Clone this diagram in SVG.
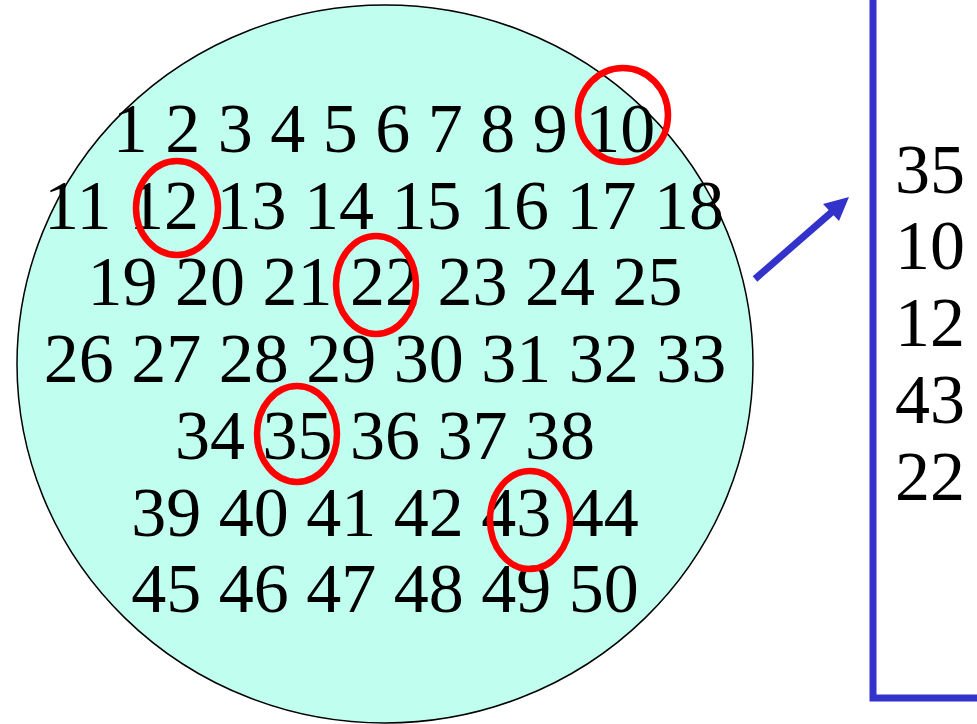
<svg xmlns="http://www.w3.org/2000/svg" width="977" height="724" viewBox="0 0 977 724">
<defs>
<style>
text{font-family:'Liberation Serif',Tinos,'Times New Roman',serif;font-size:70px;fill:#000000;}
.mark{fill:none;stroke:#ff0000;stroke-width:6.5;}
</style>
</defs>
<rect width="977" height="724" fill="#ffffff"/>
<g id="population">
<ellipse cx="385" cy="364" rx="368" ry="359" fill="#c0fff0" stroke="#000" stroke-width="1.5"/>
<text text-anchor="middle" x="384" y="152" xml:space="preserve">1 2 3 4 5 6 7 8 9 10</text>
<text text-anchor="middle" x="384" y="229" xml:space="preserve">11 12 13 14 15 16 17 18</text>
<text text-anchor="middle" x="385" y="305" xml:space="preserve">19 20 21 22 23 24 25</text>
<text text-anchor="middle" x="385" y="382" xml:space="preserve">26 27 28 29 30 31 32 33</text>
<text text-anchor="middle" x="385" y="459" xml:space="preserve">34 35 36 37 38</text>
<text text-anchor="middle" x="385" y="536" xml:space="preserve">39 40 41 42 43 44</text>
<text text-anchor="middle" x="385" y="612" xml:space="preserve">45 46 47 48 49 50</text>
</g>
<g id="marks">
<ellipse class="mark" cx="623" cy="115" rx="45" ry="47"/>
<ellipse class="mark" cx="177" cy="208" rx="41" ry="47"/>
<ellipse class="mark" cx="376" cy="285" rx="40" ry="49"/>
<ellipse class="mark" cx="297" cy="434" rx="40" ry="48"/>
<ellipse class="mark" cx="530" cy="520" rx="40" ry="49"/>
</g>
<g id="connectors">
<line x1="755" y1="279" x2="833" y2="211" stroke="#3333cc" stroke-width="7"/>
<polygon points="849,197 823,204 839,221" fill="#3333cc"/>
</g>
<g id="sample">
<rect x="873" y="-20" width="200" height="718" fill="none" stroke="#3333cc" stroke-width="7"/>
<text x="895" y="193">35</text>
<text x="895" y="269">10</text>
<text x="895" y="346">12</text>
<text x="895" y="423">43</text>
<text x="895" y="500">22</text>
</g>
</svg>
